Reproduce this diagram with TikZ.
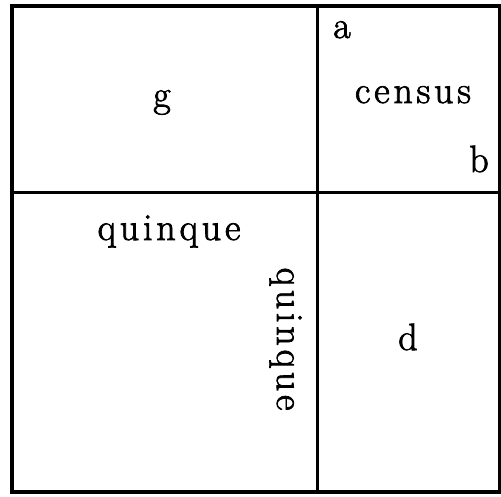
\documentclass[tikz,border=0pt]{standalone}
\usepackage{fontspec}
\setmainfont{Latin Modern Roman}
\newfontfamily\spacedfont[LetterSpace=10,FakeBold=2]{Latin Modern Roman}
\begin{document}
\begin{tikzpicture}[x=1pt,y=-1pt,
  lbl/.style={inner sep=0pt,anchor=base,font=\spacedfont\fontsize{38}{42}\selectfont},
  rule/.style={line width=3pt}]
\useasboundingbox (0,0) rectangle (501,496);
\fill[white] (0,0) rectangle (501,496);
\coordinate (tl) at (12,6);
\coordinate (br) at (500,492);
\coordinate (vt) at (317,6);
\coordinate (vb) at (317,492);
\coordinate (hl) at (12,192);
\coordinate (hr) at (500,192);
\draw[rule,line width=3.4pt] (tl) rectangle (br);
\draw[rule] (vt) -- (vb);
\draw[rule] (hl) -- (hr);
\node[lbl] (g) at (162,107) {g};
\node[lbl] (a) at (342,38) {a};
\node[lbl] (census) at (413,103) {census};
\node[lbl] (b) at (479,172) {b};
\node[lbl] (q1) at (169,240) {quinque};
\node[lbl,rotate=-90] (q2) at (277,339) {quinque};
\node[lbl] (d) at (408,350) {d};
\end{tikzpicture}
\end{document}
